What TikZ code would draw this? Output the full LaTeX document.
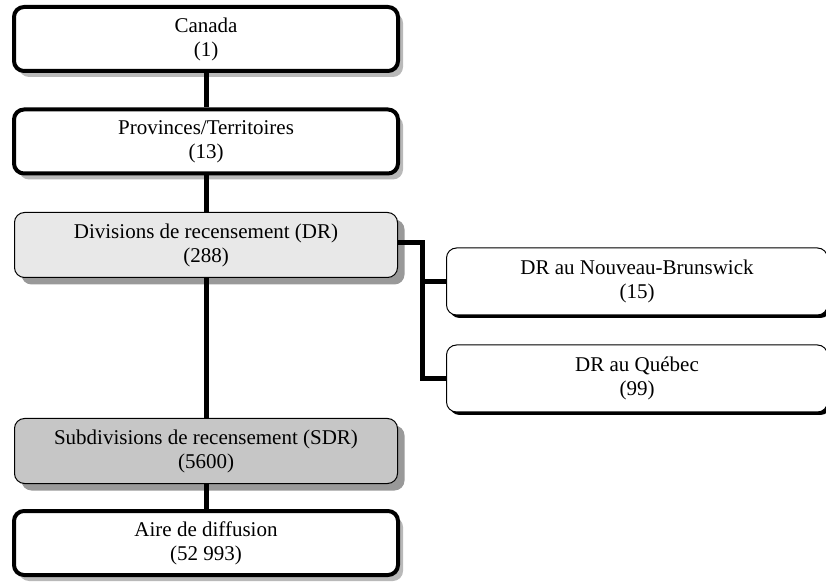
\documentclass[tikz,border=0pt]{standalone}
\usepackage{fontspec}
\setmainfont{Liberation Serif}
\usepackage{tikz}
\usetikzlibrary{positioning}
\usetikzlibrary{shadows}
\tikzstyle{every node}+=[inner sep=0pt]
\tikzstyle{box} = [rectangle, draw, fill=white, align=center, rounded corners=10pt, font=\fontsize{21}{24}\selectfont]
\tikzstyle{thickbox} = [box, line width=4pt, minimum width=384pt, minimum height=64pt, drop shadow={shadow xshift=5pt, shadow yshift=-6pt, fill=gray!55, opacity=1}]
\tikzstyle{shadebox} = [box, line width=1pt, minimum width=383pt, minimum height=65pt, drop shadow={shadow xshift=7pt, shadow yshift=-7pt, fill=gray!80, opacity=1}]
\tikzstyle{sidebox} = [box, line width=1pt, minimum width=381pt, minimum height=67pt, drop shadow={shadow xshift=3pt, shadow yshift=-3pt, fill=black, opacity=1}]
\tikzstyle{line} = [draw, line width=5pt]

\begin{document}
\begin{tikzpicture}[x=1pt, y=1pt]
          \useasboundingbox (0,0) rectangle (826,586);
          % Place nodes
          \node [thickbox] (canada) at (206,547) {Canada\\(1)};
          \node [thickbox, below of=canada, node distance=102.5pt] (prov) {Provinces/Territoires\\(13)};
          \node [shadebox, fill=gray!18, below of=prov, node distance=103.5pt] (dr) {Divisions de recensement (DR)\\(288)};
          \node [sidebox, right of=dr, node distance=431pt, yshift=-36.5pt] (nb) {DR au Nouveau-Brunswick\\(15)};
          \node [sidebox, below of=nb, node distance=97pt] (qc) {DR au Québec\\(99)};
          \node [shadebox, fill=gray!45, below of=dr, node distance=206pt] (sdr) {Subdivisions de recensement (SDR)\\(5600)};
          \node [thickbox, below of=sdr, node distance=92pt] (ad) {Aire de diffusion\\(52 993)};
          \coordinate [right=24pt of dr.east, yshift=2pt] (fork);
          % Draw edges
          \path [line] (canada) -- (prov);
          \path [line] (prov) -- (dr);
          \path [line] (dr) -- (sdr);
          \path [line] (sdr) -- (ad);
          \path [line] (dr.east |- fork) -- (fork) |- (nb.west);
          \path [line] (fork) |- (qc.west);
        \end{tikzpicture}
\end{document}
